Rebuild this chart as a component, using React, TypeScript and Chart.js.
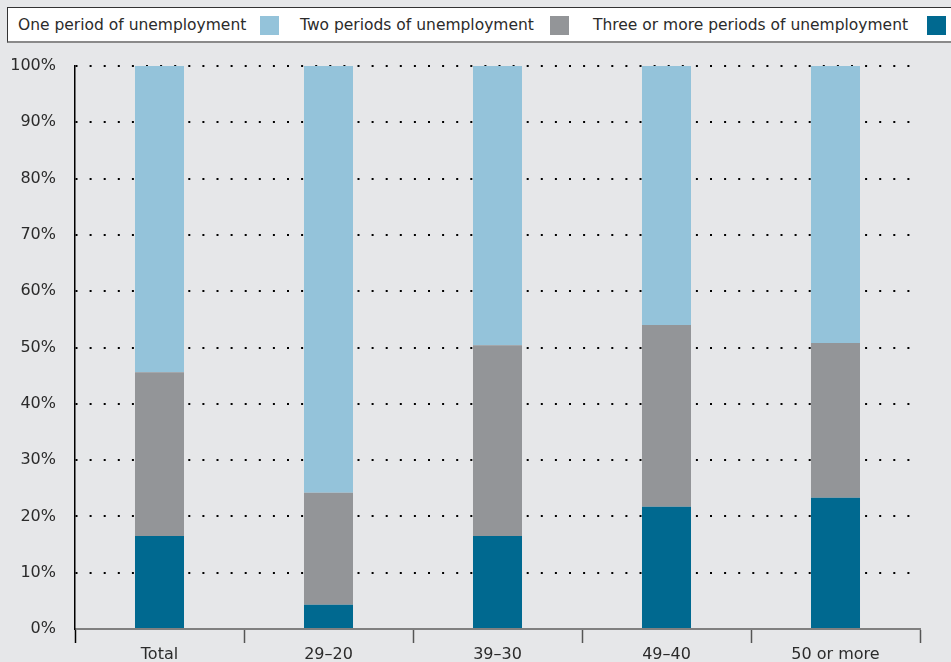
import React, { useEffect, useRef } from "react";
import { Chart, registerables } from "chart.js";

Chart.register(...registerables);

const categories = ["Total", "29–20", "39–30", "49–40", "50 or more"];
const seriesNames = [
  "One period of unemployment",
  "Two periods of unemployment",
  "Three or more periods of unemployment",
];
const onePeriod = [54.4, 75.8, 49.6, 46.0, 49.2];
const twoPeriods = [29.1, 19.9, 33.9, 32.3, 27.5];
const threeOrMore = [16.5, 4.3, 16.5, 21.7, 23.3];
const yTicks = [0, 10, 20, 30, 40, 50, 60, 70, 80, 90, 100];

const COLORS = ["#94c3da", "#939598", "#006990"];
const FONT = "'DejaVu Sans', sans-serif";
const BG = "#e6e7e9";

export default function App() {
  const ref = useRef<HTMLCanvasElement>(null);

  useEffect(() => {
    const canvas = ref.current;
    if (!canvas) return;
    const chart = new Chart(canvas, {
      type: "bar",
      data: {
        labels: categories,
        datasets: [
          { label: seriesNames[2], data: threeOrMore, backgroundColor: COLORS[2] },
          { label: seriesNames[1], data: twoPeriods, backgroundColor: COLORS[1] },
          { label: seriesNames[0], data: onePeriod, backgroundColor: COLORS[0] },
        ],
      },
      options: {
        responsive: false,
        animation: false,
        maintainAspectRatio: false,
        layout: { padding: { left: 0, top: 66, right: 31, bottom: 0 } },
        datasets: { bar: { barPercentage: 0.29, categoryPercentage: 1 } },
        plugins: { legend: { display: false }, tooltip: { enabled: false } },
        scales: {
          x: {
            stacked: true,
            grid: {
              offset: true,
              drawOnChartArea: false,
              drawTicks: true,
              tickLength: 14,
              tickWidth: 1.5,
              tickColor: (ctx: any) => (ctx.index === 0 ? "#000" : "#555"),
            },
            border: { display: true, color: "#808080", width: 2 },
            ticks: {
              color: "#2b2b2b",
              font: { family: FONT, size: 16 },
              padding: 2,
            },
            afterFit: (s: any) => {
              s.height = 33;
            },
          },
          y: {
            stacked: true,
            min: 0,
            max: 100,
            afterBuildTicks: (s: any) => {
              s.ticks = yTicks.map((v) => ({ value: v }));
            },
            grid: {
              drawTicks: false,
              color: (ctx: any) => (ctx.tick && ctx.tick.value === 0 ? "rgba(0,0,0,0)" : "#000"),
              lineWidth: 2,
            },
            border: { display: true, color: "#000", width: 1.5, dash: [2, 12.1] },
            ticks: {
              color: "#2b2b2b",
              font: { family: FONT, size: 16 },
              padding: 19,
              callback: (v: any) => v + "%",
            },
            afterFit: (s: any) => {
              s.width = 75;
            },
          },
        },
      },
    });
    return () => chart.destroy();
  }, []);

  const items = [
    { text: seriesNames[0], left: 18, sq: 260, color: COLORS[0] },
    { text: seriesNames[1], left: 300, sq: 550, color: COLORS[1] },
    { text: seriesNames[2], left: 593, sq: 927, color: COLORS[2] },
  ];

  return (
    <div
      style={{
        position: "fixed",
        left: 0,
        top: 0,
        width: 951,
        height: 662,
        background: BG,
        overflow: "hidden",
      }}
    >
      <canvas ref={ref} width={951} height={662} style={{ position: "absolute", left: 0, top: 0 }} />
      <div
        style={{
          position: "absolute",
          left: 7,
          top: 7,
          width: 960,
          height: 33,
          background: "#fff",
          borderTop: "1px solid #333",
          borderLeft: "1px solid #333",
          borderBottom: "2px solid #8a8a8a",
        }}
      />
      {items.map((it, i) => (
        <React.Fragment key={i}>
          <div
            style={{
              position: "absolute",
              left: it.left,
              top: 15,
              fontFamily: FONT,
              fontSize: 15.5,
              lineHeight: "20px",
              color: "#2b2b2b",
              whiteSpace: "nowrap",
            }}
          >
            {it.text}
          </div>
          <div
            style={{
              position: "absolute",
              left: it.sq,
              top: 16,
              width: 19,
              height: 19,
              background: it.color,
            }}
          />
        </React.Fragment>
      ))}
    </div>
  );
}
